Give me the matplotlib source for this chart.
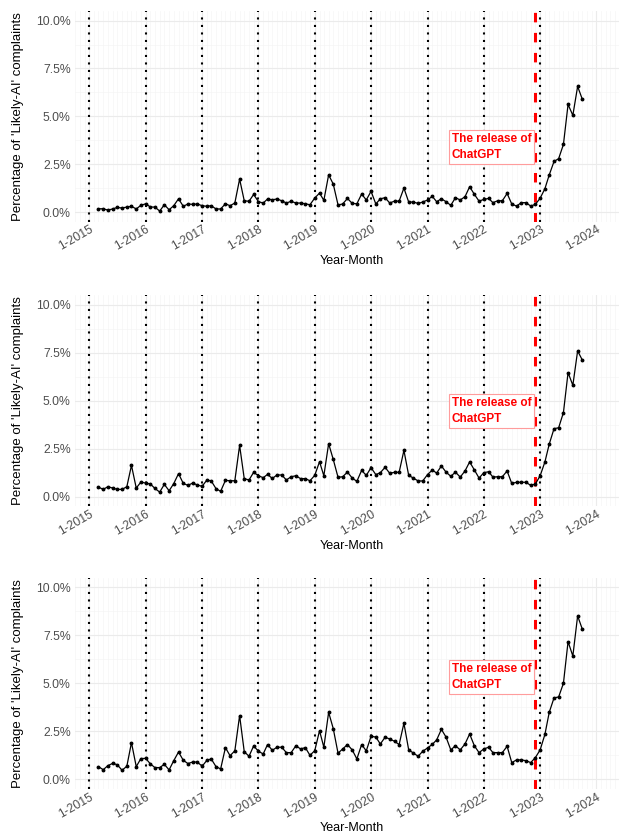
import matplotlib
matplotlib.use('Agg')
import matplotlib.pyplot as plt
import matplotlib.dates as mdates
import matplotlib.ticker as mticker
import pandas as pd

plt.rcParams['font.family'] = ['Liberation Sans', 'DejaVu Sans']

# ---------------- data ----------------
months = pd.date_range('2015-03-01', '2023-10-01', freq='MS')

share_panel1 = [0.17, 0.17, 0.10, 0.16, 0.24, 0.21, 0.26, 0.30, 0.16, 0.35,
                0.43, 0.26, 0.26, 0.05, 0.38, 0.12, 0.33, 0.69, 0.30, 0.42, 0.40, 0.42,
                0.33, 0.30, 0.33, 0.16, 0.16, 0.43, 0.33, 0.47, 1.72, 0.59, 0.56, 0.92,
                0.54, 0.47, 0.68, 0.64, 0.68, 0.59, 0.47, 0.56, 0.47, 0.47, 0.43, 0.38,
                0.73, 0.99, 0.61, 1.94, 1.46, 0.37, 0.42, 0.71, 0.45, 0.43, 0.94, 0.63,
                1.08, 0.42, 0.69, 0.75, 0.47, 0.57, 0.57, 1.25, 0.52, 0.52, 0.45, 0.52,
                0.63, 0.82, 0.54, 0.69, 0.54, 0.35, 0.75, 0.63, 0.80, 1.32, 0.92, 0.57,
                0.66, 0.71, 0.49, 0.59, 0.59, 0.97, 0.42, 0.31, 0.49, 0.49, 0.31, 0.40,
                0.72, 1.22, 1.94, 2.64, 2.79, 3.53, 5.62, 5.05, 6.56, 5.90]

share_panel2 = [0.50, 0.38, 0.52, 0.45, 0.38, 0.38, 0.52, 1.63, 0.45, 0.76,
                0.71, 0.66, 0.43, 0.24, 0.64, 0.31, 0.68, 1.20, 0.69, 0.59, 0.71, 0.61,
                0.54, 0.87, 0.82, 0.42, 0.28, 0.85, 0.83, 0.83, 2.67, 0.94, 0.87, 1.27,
                1.09, 0.99, 1.16, 0.95, 1.13, 1.13, 0.87, 1.04, 1.09, 0.94, 0.94, 0.83,
                1.11, 1.82, 1.09, 2.76, 1.94, 1.01, 1.04, 1.28, 0.97, 0.80, 1.37, 1.11,
                1.51, 1.15, 1.25, 1.53, 1.22, 1.27, 1.27, 2.41, 1.11, 0.97, 0.82, 0.82,
                1.15, 1.39, 1.23, 1.60, 1.28, 1.06, 1.28, 1.02, 1.34, 1.81, 1.39, 0.97,
                1.25, 1.30, 1.02, 1.04, 1.04, 1.34, 0.69, 0.75, 0.75, 0.75, 0.59, 0.66,
                1.09, 1.81, 2.74, 3.54, 3.59, 4.38, 6.46, 5.80, 7.59, 7.12]

share_panel3 = [0.66, 0.50, 0.71, 0.83, 0.76, 0.47, 0.68, 1.91, 0.66, 1.08,
                1.09, 0.80, 0.61, 0.61, 0.78, 0.49, 0.97, 1.42, 0.99, 0.82, 0.90, 0.90,
                0.68, 0.99, 1.06, 0.66, 0.54, 1.65, 1.23, 1.48, 3.32, 1.44, 1.20, 1.74,
                1.46, 1.32, 1.81, 1.51, 1.67, 1.67, 1.39, 1.39, 1.75, 1.58, 1.65, 1.25,
                1.49, 2.53, 1.67, 3.49, 2.64, 1.36, 1.58, 1.81, 1.53, 1.06, 1.81, 1.48,
                2.24, 2.20, 1.84, 2.19, 2.10, 1.98, 1.81, 2.92, 1.53, 1.37, 1.20, 1.46,
                1.63, 1.82, 2.05, 2.60, 2.20, 1.53, 1.75, 1.53, 1.84, 2.36, 1.74, 1.39,
                1.58, 1.67, 1.39, 1.39, 1.39, 1.72, 0.87, 1.01, 1.01, 0.97, 0.87, 1.13,
                1.53, 2.34, 3.49, 4.24, 4.29, 5.00, 7.17, 6.42, 8.51, 7.83]

year_lines = pd.date_range('2015-01-01', '2023-01-01', freq='YS')
release_date = pd.Timestamp('2022-11-30')
x_tick_dates = pd.date_range('2015-01-01', '2024-01-01', freq='YS')
x_tick_labels = [f"1-{d.year}" for d in x_tick_dates]
y_ticks = [0, 2.5, 5, 7.5, 10]
y_minor_ticks = [1.25, 3.75, 6.25, 8.75]
annotation_text = "The release of\nChatGPT"
annotation_y = [3.39, 4.45, 5.33]
x_title = "Year-Month"
y_title = "Percentage of 'Likely-AI' complaints"

series = [share_panel1, share_panel2, share_panel3]

# ---------------- layout ----------------
W, H = 619, 835
fig = plt.figure(figsize=(W / 100, H / 100), dpi=100)
panels_px = [(11.0, 221.6), (295.0, 506.3), (577.7, 788.9)]
left_px, right_px = 75.0, 629.0
x_limits = (pd.Timestamp('2014-09-30'), pd.Timestamp('2024-07-30'))

tick_color = '#4D4D4D'

for i, (top, bottom) in enumerate(panels_px):
    ax = fig.add_axes([left_px / W, 1 - bottom / H,
                       (right_px - left_px) / W, (bottom - top) / H])
    ax.set_xlim(*x_limits)
    ax.set_ylim(-0.5, 10.5)

    # grid
    ax.set_yticks(y_ticks)
    ax.set_yticks(y_minor_ticks, minor=True)
    ax.yaxis.set_major_formatter(mticker.FuncFormatter(lambda v, p: f"{v:.1f}%"))
    ax.set_xticks(x_tick_dates)
    ax.set_xticklabels(x_tick_labels)
    ax.xaxis.set_minor_locator(mdates.MonthLocator())
    ax.grid(which='major', color='#EBEBEB', lw=0.8, zorder=0)
    ax.grid(which='minor', color='#F5F5F5', lw=0.5, zorder=0)
    ax.set_axisbelow(True)
    for s in ax.spines.values():
        s.set_visible(False)
    ax.tick_params(which='both', length=0, colors=tick_color, labelsize=8.8)
    ax.tick_params(axis='y', pad=3)
    ax.tick_params(axis='x', pad=1.5)
    for lab in ax.get_xticklabels():
        lab.set_rotation(30)
        lab.set_ha('right')
        lab.set_va('top')
        lab.set_rotation_mode('anchor')

    # year lines
    for d in year_lines:
        ax.axvline(d, color='black', lw=1.5, linestyle=(0, (1, 2.6)),
                   dash_capstyle='butt', zorder=2)
    # release line
    ax.axvline(release_date, color='#FF0000', lw=2.2, linestyle=(0, (3.1, 3.45)),
               dash_capstyle='butt', zorder=3)

    # data
    ax.plot(months, series[i], color='black', lw=0.9, marker='o',
            markersize=1.8, zorder=4)

    ax.annotate(annotation_text, xy=(release_date, annotation_y[i]),
                xytext=(-4, 0), textcoords='offset pixels',
                ha='right', va='center', multialignment='left',
                color='#FF0000', fontweight='bold',
                fontsize=8.5, linespacing=1.4, zorder=5,
                bbox=dict(boxstyle='square,pad=0.25', fc='white',
                          ec='#FF9C9C', lw=0.8))

    ax.set_xlabel(x_title, fontsize=9, color='black')
    ax.xaxis.set_label_coords((352 - left_px) / (right_px - left_px),
                              -(255 - 221.6) / (221.6 - 11.0))
    ax.set_ylabel(y_title, fontsize=9.5, color='black')
    ax.yaxis.set_label_coords((24 - left_px) / (right_px - left_px), 0.5)

fig.savefig('out.png', dpi=100)
